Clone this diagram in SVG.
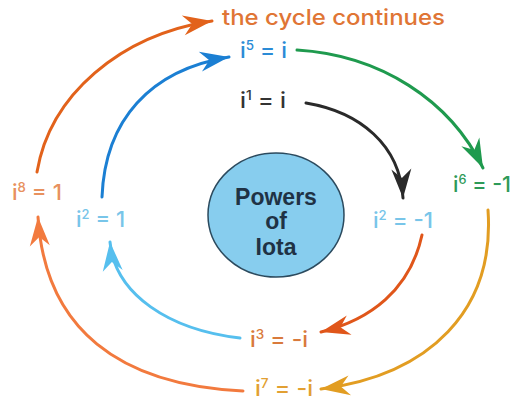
<svg xmlns="http://www.w3.org/2000/svg" width="512" height="402" viewBox="0 0 512 402">
<style>
.lbl{font-family:Inter,"DejaVu Sans","Liberation Sans",sans-serif;font-size:22px;font-weight:500;}
.sup{font-size:13px;}
.c{fill:none;stroke-width:3;stroke-linecap:round;}
.ct{font-family:"Liberation Sans",Arial,sans-serif;font-weight:bold;font-size:23px;fill:#1f3245;text-anchor:middle;}
</style>
<defs>
<marker id="mOr" viewBox="-30 -11 32 22" refX="0" refY="0" markerWidth="32" markerHeight="22" markerUnits="userSpaceOnUse" orient="auto"><path d="M0,0 L-29,-10 L-20,0 L-29,10 Z" fill="#e2621b"/></marker>
<marker id="mBl" viewBox="-30 -11 32 22" refX="0" refY="0" markerWidth="32" markerHeight="22" markerUnits="userSpaceOnUse" orient="auto"><path d="M0,0 L-29,-10 L-20,0 L-29,10 Z" fill="#1b7fd3"/></marker>
<marker id="mGr" viewBox="-30 -11 32 22" refX="0" refY="0" markerWidth="32" markerHeight="22" markerUnits="userSpaceOnUse" orient="auto"><path d="M0,0 L-29,-10 L-20,0 L-29,10 Z" fill="#1f9a4e"/></marker>
<marker id="mBk" viewBox="-30 -11 32 22" refX="0" refY="0" markerWidth="32" markerHeight="22" markerUnits="userSpaceOnUse" orient="auto"><path d="M0,0 L-29,-10 L-20,0 L-29,10 Z" fill="#2a2a2a"/></marker>
<marker id="mRo" viewBox="-30 -11 32 22" refX="0" refY="0" markerWidth="32" markerHeight="22" markerUnits="userSpaceOnUse" orient="auto"><path d="M0,0 L-29,-10 L-20,0 L-29,10 Z" fill="#e0561a"/></marker>
<marker id="mGo" viewBox="-30 -11 32 22" refX="0" refY="0" markerWidth="32" markerHeight="22" markerUnits="userSpaceOnUse" orient="auto"><path d="M0,0 L-29,-10 L-20,0 L-29,10 Z" fill="#e29d22"/></marker>
<marker id="mLb" viewBox="-30 -11 32 22" refX="0" refY="0" markerWidth="32" markerHeight="22" markerUnits="userSpaceOnUse" orient="auto"><path d="M0,0 L-29,-10 L-20,0 L-29,10 Z" fill="#56bfee"/></marker>
<marker id="mLo" viewBox="-30 -11 32 22" refX="0" refY="0" markerWidth="32" markerHeight="22" markerUnits="userSpaceOnUse" orient="auto"><path d="M0,0 L-29,-10 L-20,0 L-29,10 Z" fill="#f27a3e"/></marker>
</defs>
<rect width="512" height="402" fill="#ffffff"/>
<g id="connectors">
<path class="c" d="M37,172 C50,95 120,35 212,21" stroke="#e2621b" marker-end="url(#mOr)"/>
<path class="c" d="M102,197 C105,120 150,70 229,57" stroke="#1b7fd3" marker-end="url(#mBl)"/>
<path class="c" d="M297,50 C380,55 450,100 483,168" stroke="#1f9a4e" marker-end="url(#mGr)"/>
<path class="c" d="M306,103 C360,112 400,145 403,198" stroke="#2a2a2a" marker-end="url(#mBk)"/>
<path class="c" d="M422,235 C410,290 370,320 321,332" stroke="#e0561a" marker-end="url(#mRo)"/>
<path class="c" d="M488,210 C495,310 430,375 321,389" stroke="#e29d22" marker-end="url(#mGo)"/>
<path class="c" d="M240,338 C170,330 115,295 110,242" stroke="#56bfee" marker-end="url(#mLb)"/>
<path class="c" d="M243,391 C120,385 45,330 38,217" stroke="#f27a3e" marker-end="url(#mLo)"/>
</g>
<g id="center">
<ellipse cx="276" cy="215" rx="68" ry="62" fill="#87cdee" stroke="#2b4a5e" stroke-width="1.5"/>
<text class="ct" x="276" y="205">Powers</text>
<text class="ct" x="276" y="229">of</text>
<text class="ct" x="276" y="255">Iota</text>
</g>
<g id="title"><text class="lbl" x="222" y="25" fill="#e07535" textLength="223" lengthAdjust="spacingAndGlyphs">the cycle continues</text></g>
<g id="i5"><text class="lbl" x="240" y="58" fill="#2b8bd6" textLength="47" lengthAdjust="spacingAndGlyphs">i<tspan class="sup" dy="-8">5</tspan><tspan dy="8"> = i</tspan></text></g>
<g id="i1"><text class="lbl" x="240" y="108" fill="#333333" textLength="46" lengthAdjust="spacingAndGlyphs">i<tspan class="sup" dy="-8">1</tspan><tspan dy="8"> = i</tspan></text></g>
<g id="i6"><text class="lbl" x="453" y="192" fill="#2e9a58" textLength="58" lengthAdjust="spacingAndGlyphs">i<tspan class="sup" dy="-8">6</tspan><tspan dy="8"> = -1</tspan></text></g>
<g id="i2r"><text class="lbl" x="373" y="228" fill="#78c5e9" textLength="60" lengthAdjust="spacingAndGlyphs">i<tspan class="sup" dy="-8">2</tspan><tspan dy="8"> = -1</tspan></text></g>
<g id="i8"><text class="lbl" x="12" y="200" fill="#e8915e" textLength="50" lengthAdjust="spacingAndGlyphs">i<tspan class="sup" dy="-8">8</tspan><tspan dy="8"> = 1</tspan></text></g>
<g id="i2l"><text class="lbl" x="76" y="227" fill="#78c5e9" textLength="49" lengthAdjust="spacingAndGlyphs">i<tspan class="sup" dy="-8">2</tspan><tspan dy="8"> = 1</tspan></text></g>
<g id="i3"><text class="lbl" x="250" y="347" fill="#d97a3c" textLength="58" lengthAdjust="spacingAndGlyphs">i<tspan class="sup" dy="-8">3</tspan><tspan dy="8"> = -i</tspan></text></g>
<g id="i7"><text class="lbl" x="255" y="396" fill="#e2a032" textLength="58" lengthAdjust="spacingAndGlyphs">i<tspan class="sup" dy="-8">7</tspan><tspan dy="8"> = -i</tspan></text></g>
</svg>
